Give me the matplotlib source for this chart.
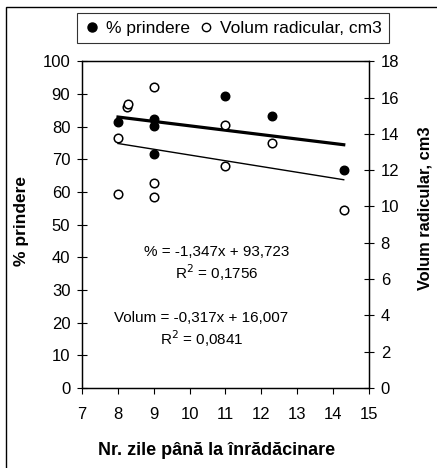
"""
Scatter with two y axes: % prindere and volum radicular vs. nr. zile până la înrădăcinare.
"""
import matplotlib
matplotlib.use("Agg")
import matplotlib.pyplot as plt
from matplotlib.lines import Line2D
from matplotlib.patches import Rectangle
import numpy as np

plt.rcParams["font.family"] = ["Liberation Sans", "DejaVu Sans"]

# % prindere (left axis)
ZILE_PRINDERE = [8, 9, 9, 9, 11, 12.3, 14.3]
PRINDERE = [81.5, 82.2, 80.2, 71.5, 89.4, 83.2, 66.7]

# Volum radicular, cm3 (right axis)
ZILE_VOLUM = [8, 8, 8.25, 8.28, 9, 9, 9, 11, 11, 12.3, 14.3]
VOLUM = [13.8, 10.7, 15.5, 15.65, 16.6, 11.3, 10.5, 14.5, 12.25, 13.5, 9.8]

# trend lines as printed on the chart
PRINDERE_SLOPE, PRINDERE_INTERCEPT, PRINDERE_R2 = -1.347, 93.723, 0.1756
VOLUM_SLOPE, VOLUM_INTERCEPT, VOLUM_R2 = -0.317, 16.007, 0.0841


def fmt(v, nd):
    return f"{v:.{nd}f}".replace(".", ",")


fig = plt.figure(figsize=(4.37, 4.68), dpi=100)
ax = fig.add_axes([0.188, 0.171, 0.656, 0.698])
ax2 = ax.twinx()

ax.scatter(ZILE_PRINDERE, PRINDERE, s=38, color="black", zorder=3)
ax2.scatter(ZILE_VOLUM, VOLUM, s=38, facecolor="white", edgecolor="black",
            linewidth=1.1, zorder=3)

xp = np.array([min(ZILE_PRINDERE), max(ZILE_PRINDERE)])
ax.plot(xp, PRINDERE_SLOPE * xp + PRINDERE_INTERCEPT, color="black", lw=2.3)
xv = np.array([min(ZILE_VOLUM), max(ZILE_VOLUM)])
ax2.plot(xv, VOLUM_SLOPE * xv + VOLUM_INTERCEPT, color="black", lw=1.0)

ax.set_xlim(7, 15)
ax.set_ylim(0, 100)
ax2.set_ylim(0, 18)
ax.set_xticks(np.arange(7, 16, 1))
ax.set_yticks(np.arange(0, 101, 10))
ax2.set_yticks(np.arange(0, 19, 2))

for a in (ax, ax2):
    a.tick_params(labelsize=12, direction="inout", length=7, width=0.8, pad=5)
    for s in a.spines.values():
        s.set_linewidth(0.9)
ax.tick_params(axis="x", direction="out", length=4, pad=10)

ax.set_xlabel("Nr. zile până la înrădăcinare", fontsize=13, fontweight="bold")
ax.set_ylabel("% prindere", fontsize=12.5, fontweight="bold")
ax2.set_ylabel("Volum radicular, cm3", fontsize=11.8, fontweight="bold")
ax.xaxis.set_label_coords(0.468, -0.165)
ax.yaxis.set_label_coords(-0.186, 0.51)
ax2.yaxis.set_label_coords(1.17, 0.55)

ax.text(10.75, 41.6, f"% = {fmt(PRINDERE_SLOPE, 3)}x + {fmt(PRINDERE_INTERCEPT, 3)}",
        ha="center", va="center", fontsize=11)
ax.text(10.75, 35.2, f"R$^2$ = {fmt(PRINDERE_R2, 4)}", ha="center", va="center", fontsize=11)
ax.text(10.33, 21.4, f"Volum = {fmt(VOLUM_SLOPE, 3)}x + {fmt(VOLUM_INTERCEPT, 3)}",
        ha="center", va="center", fontsize=11)
ax.text(10.33, 15.0, f"R$^2$ = {fmt(VOLUM_R2, 4)}", ha="center", va="center", fontsize=11)

handles = [
    Line2D([], [], marker="o", ls="none", color="black", markersize=6.5),
    Line2D([], [], marker="o", ls="none", markerfacecolor="white",
           markeredgecolor="black", markersize=6),
]
leg = fig.legend(handles, ["% prindere", "Volum radicular, cm3"], loc="center",
                 bbox_to_anchor=(0.534, 0.94), ncol=2, fontsize=12.5, frameon=True,
                 fancybox=False, edgecolor="black", handlelength=0.8,
                 handletextpad=0.4, columnspacing=0.5, borderpad=0.45)
leg.get_frame().set_linewidth(0.8)

# outer chart frame; its right and bottom edges fall outside the picture
fig.patches.append(Rectangle((6 / 437, -10 / 468), 450 / 437, 471 / 468,
                             transform=fig.transFigure, fill=False,
                             edgecolor="black", linewidth=1.0))

fig.savefig("out.png", dpi=100)
